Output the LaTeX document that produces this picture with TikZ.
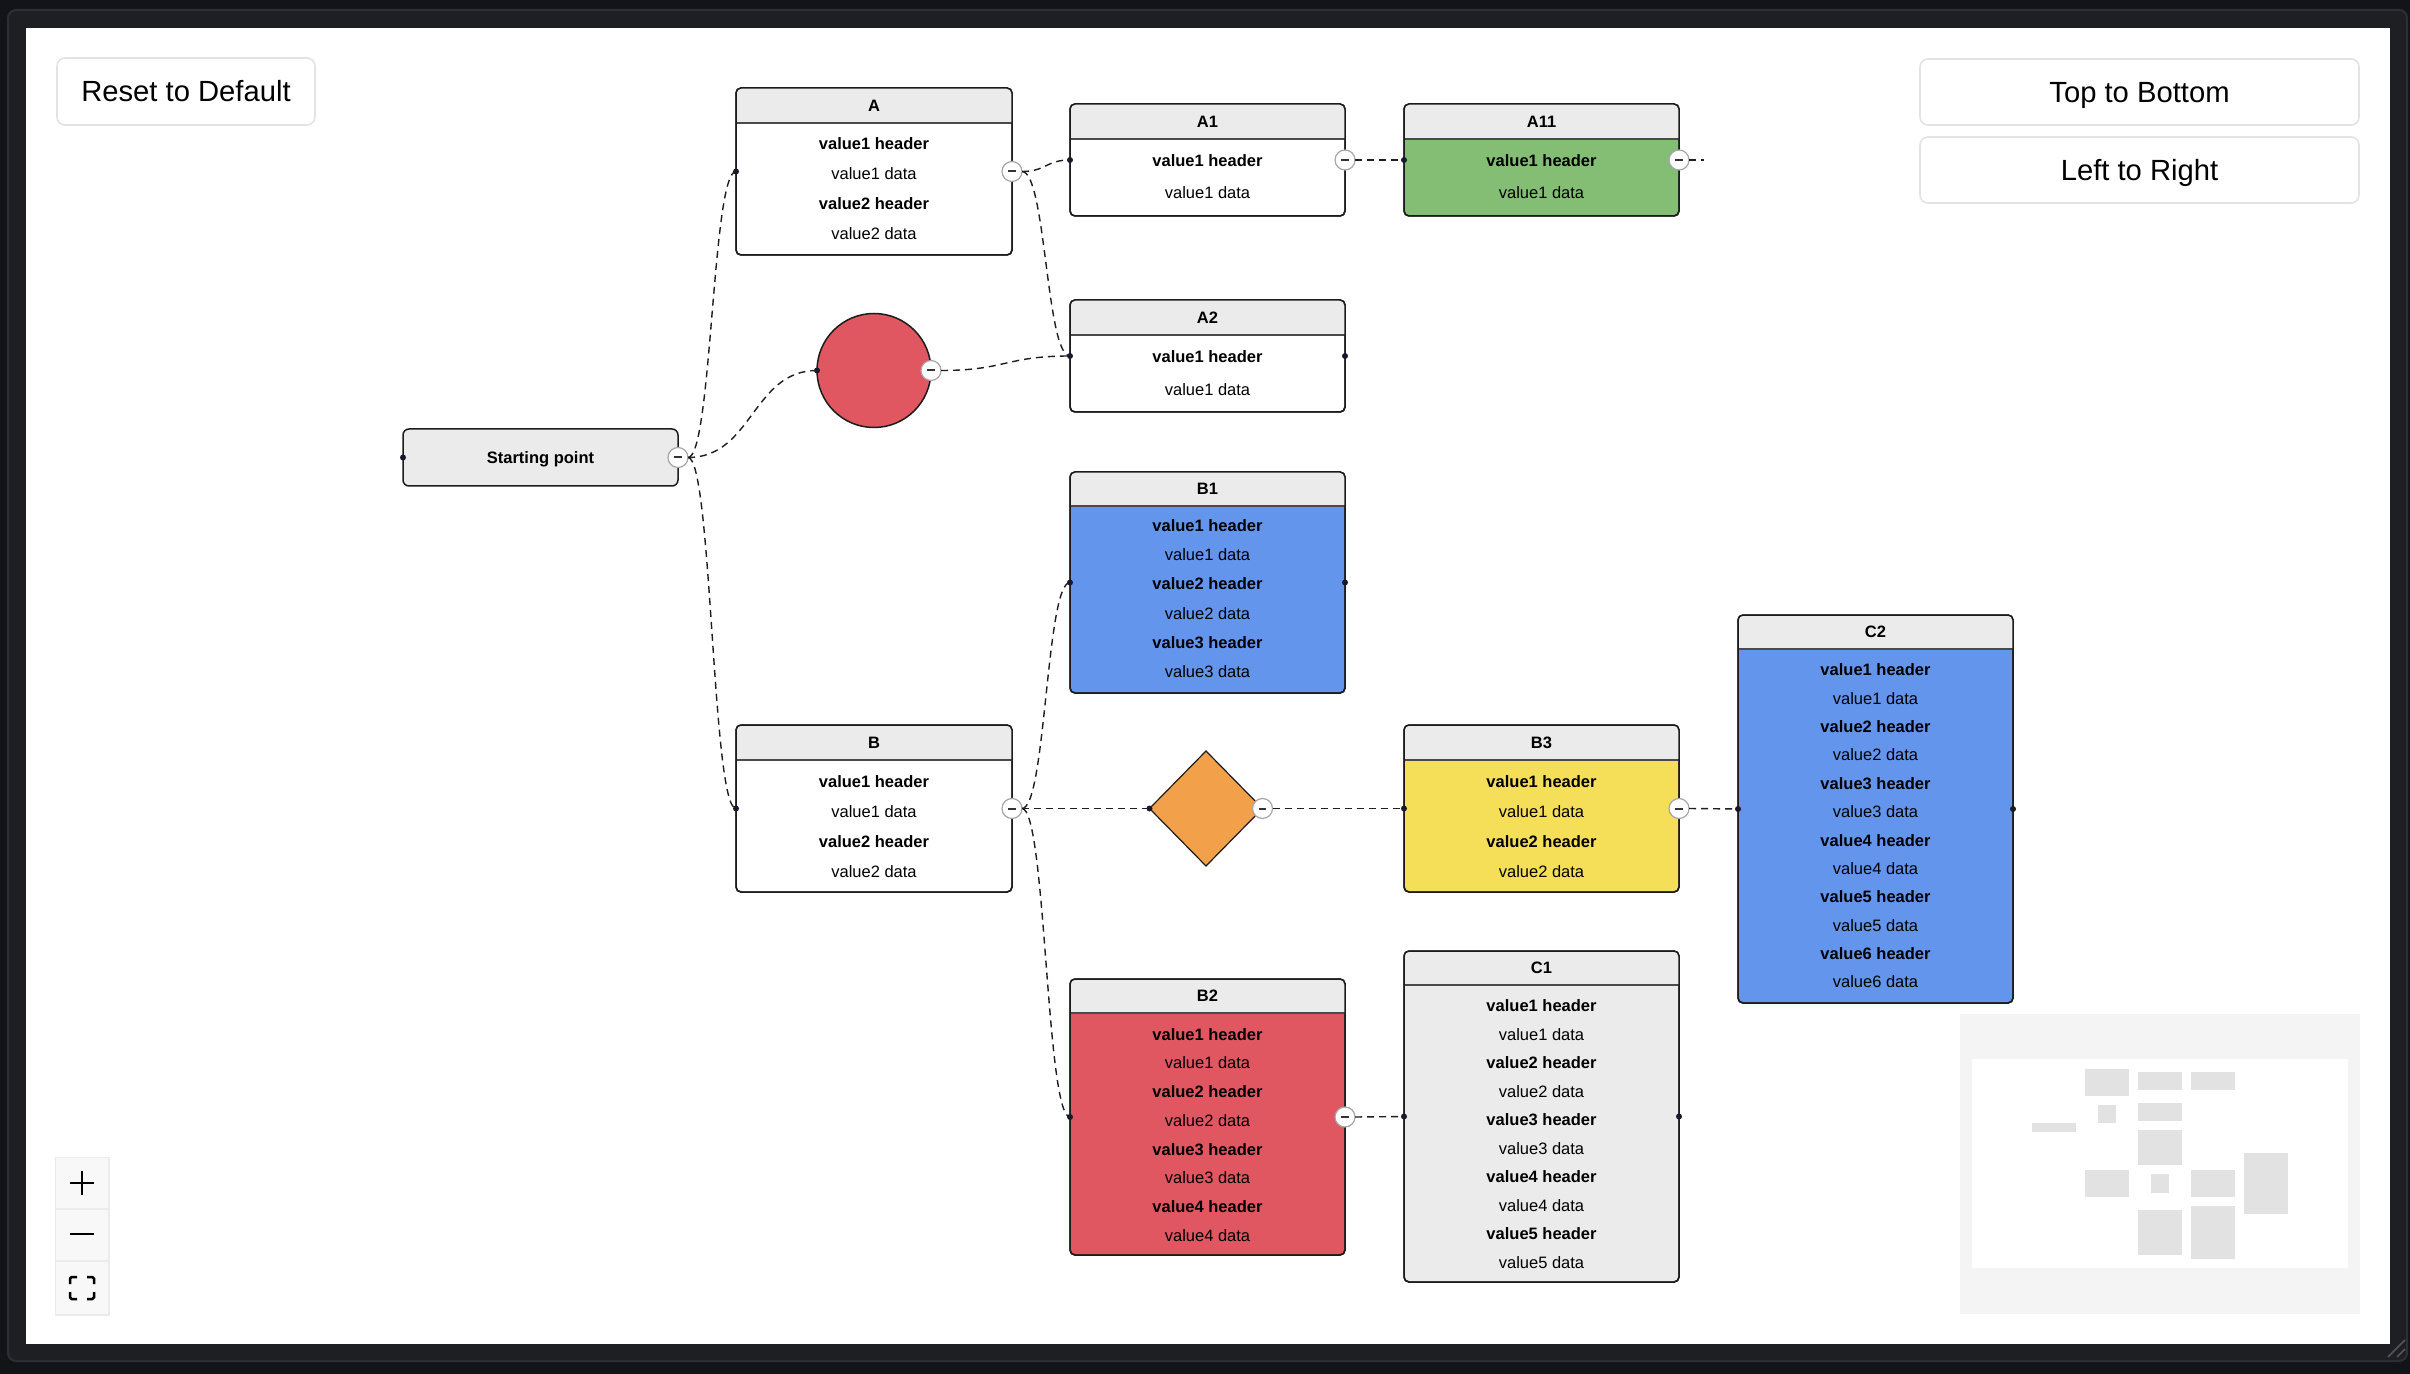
\documentclass[tikz,border=0pt]{standalone}
\usepackage{fontspec}
\setmainfont{Liberation Sans}
\usetikzlibrary{calc,shapes.geometric}
\definecolor{outerbg}{HTML}{131418}
\definecolor{framebg}{HTML}{1E1F23}
\definecolor{frameline}{HTML}{2E2F34}
\definecolor{nodeborder}{HTML}{1C1C1C}
\definecolor{hdrline}{HTML}{4A4A4A}
\definecolor{hdrgrey}{HTML}{EBEBEB}
\definecolor{dotcol}{HTML}{1A192B}
\definecolor{handlegrey}{HTML}{A6A6A6}
\definecolor{minuscol}{HTML}{333333}
\definecolor{edgecol}{HTML}{1E1E1E}
\definecolor{nodegreen}{RGB}{132,190,116}
\definecolor{nodeblue}{RGB}{100,149,237}
\definecolor{nodeyellow}{RGB}{245,223,88}
\definecolor{nodered}{RGB}{224,87,97}
\definecolor{nodeorange}{RGB}{242,160,74}
\definecolor{btnborder}{HTML}{E3E3E3}
\definecolor{ctrlbg}{HTML}{F8F8F8}
\definecolor{ctrlsep}{HTML}{ECECEC}
\definecolor{minibg}{HTML}{F4F4F4}
\definecolor{minirect}{HTML}{E2E2E2}
\definecolor{resizecol}{HTML}{55565B}

\newcommand\bodyfont{\fontsize{8.25pt}{9pt}\selectfont}
\newcommand\btnfont{\fontsize{14.6pt}{16pt}\selectfont}

\tikzset{
  tblbox/.style={rectangle, draw=nodeborder, line width=0.75pt, rounded corners=2.5pt, inner sep=0pt, outer sep=0pt},
  hdrsep/.style={draw=hdrline, line width=1pt},
  titletext/.style={font=\bodyfont\bfseries, text=black, inner sep=0pt, text height=5.9pt, text depth=0pt},
  hdrtext/.style={font=\bodyfont\bfseries, text=black, inner sep=0pt, text height=5.9pt, text depth=0pt},
  dattext/.style={font=\bodyfont, text=black, inner sep=0pt, text height=5.9pt, text depth=0pt},
  mhandle/.style={circle, fill=white, draw=handlegrey, line width=0.6pt, minimum size=10pt, inner sep=0pt, outer sep=0pt,
    path picture={\draw[line width=1pt, minuscol] ([xshift=-1.8pt]path picture bounding box.center) -- ([xshift=1.8pt]path picture bounding box.center);}},
  tdot/.style={circle, fill=dotcol, minimum size=3pt, inner sep=0pt},
  edge/.style={draw=edgecol, line width=0.7pt, dash pattern=on 3.5pt off 2.5pt},
  btn/.style={rectangle, draw=btnborder, line width=0.8pt, fill=white, rounded corners=4pt, inner sep=0pt, font=\btnfont, text height=10.4pt, text depth=0pt},
  ctrlicon/.style={draw=black, line width=1.25pt},
  minibox/.style={fill=minirect},
}

% name, x1, y1, x2, y2, header y, body colour, title
\newcommand\tablenode[8]{%
  \node[tblbox, fill=#7, minimum width={(#4-#2)*0.5pt}, minimum height={(#5-#3)*0.5pt}] (#1) at ({(#2+#4)/2},{(#3+#5)/2}) {};
  \begin{scope}
    \clip[rounded corners=2.5pt] (#1.north west) rectangle (#1.south east);
    \fill[hdrgrey] (#1.north west) rectangle (#4,#6);
  \end{scope}
  \draw[hdrsep] (#2,#6) -- (#4,#6);
  \draw[nodeborder, line width=0.75pt, rounded corners=2.5pt] (#1.north west) rectangle (#1.south east);
  \node[titletext] (#1-title) at ({(#2+#4)/2},{(#3+#6)/2}) {#8};
}
% name, x centre, first y, step, pairs
\newcommand\tablerows[5]{%
  \foreach \k in {1,...,#5}{%
    \node[hdrtext] (#1-h\k) at (#2,{#3+(2*\k-2)*#4}) {value\k\ header};
    \node[dattext] (#1-d\k) at (#2,{#3+(2*\k-1)*#4}) {value\k\ data};
  }}
\newcommand\conn[2]{\draw[edge] let \p1=(#1), \p2=(#2) in (\p1) .. controls ({0.5*\x1+0.5*\x2},\y1) and ({0.5*\x1+0.5*\x2},\y2) .. (\p2);}

\begin{document}
\begin{tikzpicture}[x=0.5pt,y=-0.5pt]
\useasboundingbox (0,0) rectangle (2410,1374);
\fill[outerbg] (0,0) rectangle (2410,1374);
\fill[framebg, draw=frameline, line width=1pt, rounded corners=4pt] (8,10) rectangle (2407,1361);
\fill[white] (26,28) rectangle (2390,1344);

% buttons
\node[btn, minimum width=129pt, minimum height=33.5pt] (reset) at (186,91.5) {Reset to Default};
\node[btn, minimum width=219.5pt, minimum height=33pt] (ttb) at (2139.5,92) {Top to Bottom};
\node[btn, minimum width=219.5pt, minimum height=33pt] (ltr) at (2139.5,170) {Left to Right};

% table nodes
\tablenode{A}{736}{88}{1012}{255}{122.7}{white}{A}
\tablerows{A}{874}{144}{30}{2}
\tablenode{A1}{1070}{104}{1345}{216}{139}{white}{A1}
\tablerows{A1}{1207.5}{161}{32}{1}
\tablenode{A11}{1404}{104}{1679}{216}{139}{nodegreen}{A11}
\tablerows{A11}{1541.5}{161}{32}{1}
\tablenode{A2}{1070}{300}{1345}{412}{335}{white}{A2}
\tablerows{A2}{1207.5}{357}{33}{1}
\tablenode{B}{736}{725}{1012}{892}{760}{white}{B}
\tablerows{B}{874}{781.7}{30}{2}
\tablenode{B1}{1070}{472}{1345}{693}{506}{nodeblue}{B1}
\tablerows{B1}{1207.5}{525.6}{29.2}{3}
\tablenode{B3}{1404}{725}{1679}{892}{760}{nodeyellow}{B3}
\tablerows{B3}{1541.5}{781.5}{30}{2}
\tablenode{B2}{1070}{979}{1345}{1255}{1013}{nodered}{B2}
\tablerows{B2}{1207.5}{1034.3}{28.7}{4}
\tablenode{C1}{1404}{951}{1679}{1282}{985}{hdrgrey}{C1}
\tablerows{C1}{1541.5}{1006}{28.5}{5}
\tablenode{C2}{1738}{615}{2013}{1003}{649}{nodeblue}{C2}
\tablerows{C2}{1875.5}{670}{28.36}{6}

% start, circle, diamond
\node[tblbox, fill=hdrgrey, rounded corners=3pt, minimum width=137.5pt, minimum height=28.5pt, font=\bodyfont\bfseries, text height=5.9pt, text depth=0pt] (S) at (540.5,457.5) {Starting point};
\node[circle, draw=nodeborder, line width=0.75pt, fill=nodered, minimum size=57pt, inner sep=0pt, outer sep=0pt] (Circ) at (874,370.5) {};
\node[diamond, draw=nodeborder, line width=0.6pt, fill=nodeorange, minimum width=56.5pt, minimum height=57.5pt, inner sep=0pt, outer sep=0pt] (Dia) at (1206,808.5) {};

% collapse handles
\node[mhandle] (Sh) at (S.east) {};
\node[mhandle] (Ah) at (A.east) {};
\node[mhandle] (Circh) at (Circ.east) {};
\node[mhandle] (A1h) at (A1.east) {};
\node[mhandle] (A11h) at (A11.east) {};
\node[mhandle] (Bh) at (B.east) {};
\node[mhandle] (Diah) at (Dia.east) {};
\node[mhandle] (B3h) at (B3.east) {};
\node[mhandle] (B2h) at (B2.east) {};

% connectors
\conn{Sh.east}{A.west}
\conn{Sh.east}{Circ.west}
\conn{Sh.east}{B.west}
\conn{Ah.east}{A1.west}
\conn{Ah.east}{A2.west}
\conn{Circh.east}{A2.west}
\conn{A1h.east}{A11.west}
\coordinate (A11out) at (1704,160);
\draw[edge] (A11h.east) -- (A11out);
\conn{Bh.east}{B1.west}
\conn{Bh.east}{Dia.west}
\conn{Bh.east}{B2.west}
\conn{Diah.east}{B3.west}
\conn{B3h.east}{C2.west}
\conn{B2h.east}{C1.west}

% target / leaf dots
\foreach \n in {S,A,A1,A11,A2,Circ,B,B1,Dia,B3,B2,C1,C2}{\node[tdot] (\n-in) at (\n.west) {};}
\foreach \n in {A2,B1,C1,C2}{\node[tdot] (\n-out) at (\n.east) {};}

% zoom controls
\fill[black!8] (55,1157) rectangle (109.5,1315.5);
\fill[ctrlbg] (56,1158) rectangle (108,1314);
\draw[ctrlsep, line width=1pt] (56,1209) -- (108,1209) (56,1261) -- (108,1261);
\draw[ctrlicon] (70,1183) -- (94,1183) (82,1171) -- (82,1195);
\draw[ctrlicon] (70,1234) -- (94,1234);
\draw[ctrlicon, rounded corners=0.8pt] (70,1284) -- (70,1277) -- (77,1277);
\draw[ctrlicon, rounded corners=0.8pt] (87,1277) -- (94,1277) -- (94,1284);
\draw[ctrlicon, rounded corners=0.8pt] (94,1292) -- (94,1299) -- (87,1299);
\draw[ctrlicon, rounded corners=0.8pt] (77,1299) -- (70,1299) -- (70,1292);

% minimap
\fill[minibg] (1960,1014) rectangle (2360,1314);
\fill[white] (1972,1059) rectangle (2348,1268);
\fill[minibox] (2085,1069) rectangle (2129,1096);
\fill[minibox] (2138,1072) rectangle (2182,1090);
\fill[minibox] (2191,1072) rectangle (2235,1090);
\fill[minibox] (2098,1105) rectangle (2116,1123);
\fill[minibox] (2138,1103) rectangle (2182,1121);
\fill[minibox] (2032,1123) rectangle (2076,1132);
\fill[minibox] (2138,1130) rectangle (2182,1165);
\fill[minibox] (2244,1153) rectangle (2288,1214);
\fill[minibox] (2085,1170) rectangle (2129,1197);
\fill[minibox] (2151,1174) rectangle (2169,1193);
\fill[minibox] (2191,1170) rectangle (2235,1197);
\fill[minibox] (2138,1210) rectangle (2182,1255);
\fill[minibox] (2191,1206) rectangle (2235,1259);

% resize grip
\draw[resizecol, line width=0.8pt] (2388,1357) -- (2405,1340) (2397,1357) -- (2405,1349);
\end{tikzpicture}
\end{document}
